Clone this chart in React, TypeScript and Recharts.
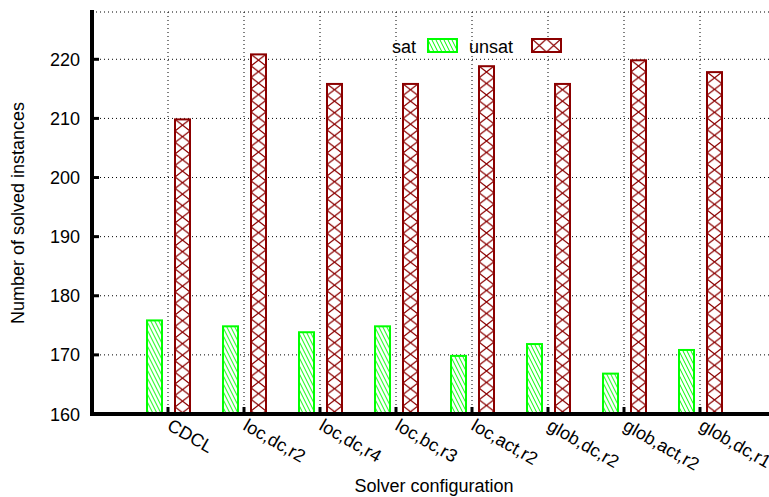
import React from 'react';
import { BarChart, Bar, XAxis, YAxis, CartesianGrid, Legend } from 'recharts';

const categories = ['CDCL', 'loc,dc,r2', 'loc,dc,r4', 'loc,bc,r3', 'loc,act,r2', 'glob,dc,r2', 'glob,act,r2', 'glob,dc,r1'];
const satValues = [176, 175, 174, 175, 170, 172, 167, 171];
const unsatValues = [210, 221, 216, 216, 219, 216, 220, 218];
const yTicks = [160, 170, 180, 190, 200, 210, 220];
const yDomain = [160, 228];

const data = categories.map((c, i) => ({ name: c, sat: satValues[i], unsat: unsatValues[i] }));

const GREEN = '#00ff00';
const RED = '#8b0000';
const FONT = '"Liberation Sans", Arial, Helvetica, sans-serif';
const FS = 18;

function SatShape(props: any) {
  const { x, y, width, height } = props;
  if (!height || height <= 0) return null;
  const id = `satpat-${Math.round(x)}`;
  return (
    <g>
      <defs>
        <pattern id={id} patternUnits="userSpaceOnUse" x={x} y={y} width={4} height={8}>
          <rect width={4} height={8} fill="#fff" />
          <path d="M-1,-2 L5,10 M-5,-2 L1,10 M3,-2 L9,10" stroke={GREEN} strokeWidth={1} />
        </pattern>
      </defs>
      <rect x={x + 1} y={y + 1} width={width - 2} height={height - 2} fill={`url(#${id})`} stroke={GREEN} strokeWidth={2} />
    </g>
  );
}

function UnsatShape(props: any) {
  const { x, y, width, height } = props;
  if (!height || height <= 0) return null;
  const id = `unsatpat-${Math.round(x)}`;
  const w = width - 2;
  const h = 11.5;
  return (
    <g>
      <defs>
        <pattern id={id} patternUnits="userSpaceOnUse" x={x + 1} y={y + 1} width={w} height={h}>
          <rect width={w} height={h} fill="#fff" />
          <path d={`M0,0 L${w},${h} M${w},0 L0,${h}`} stroke={RED} strokeWidth={1.3} />
        </pattern>
      </defs>
      <rect x={x + 1} y={y + 1} width={width - 2} height={height - 2} fill={`url(#${id})`} stroke={RED} strokeWidth={2} />
    </g>
  );
}

function BottomTick(props: any) {
  const { x, y, payload } = props;
  const tx = x - 2;
  const ty = y + 15;
  return (
    <g>
      <line x1={x} y1={y} x2={x} y2={y - 7} stroke="#000" strokeWidth={3} />
      <text x={tx} y={ty} transform={`rotate(30 ${tx} ${ty})`} textAnchor="start" fontFamily={FONT} fontSize={FS} fill="#000">
        {payload.value}
      </text>
    </g>
  );
}

function TopTick(props: any) {
  const { x, y } = props;
  return <line x1={x} y1={y} x2={x} y2={y + 7} stroke="#000" strokeWidth={3} />;
}

function LeftTick(props: any) {
  const { x, y, payload } = props;
  return (
    <g>
      <line x1={x} y1={y} x2={x + 7} y2={y} stroke="#000" strokeWidth={3} />
      <text x={x - 12} y={y + 6.5} textAnchor="end" fontFamily={FONT} fontSize={FS} fill="#000">
        {payload.value}
      </text>
    </g>
  );
}

function LegendContent(props: any) {
  const payload = props.payload || [];
  const satName = payload[0] ? payload[0].value : 'sat';
  const unsatName = payload[1] ? payload[1].value : 'unsat';
  return (
    <svg width={200} height={20} style={{ display: 'block', overflow: 'visible' }}>
      <defs>
        <pattern id="legSat" patternUnits="userSpaceOnUse" x={47} y={2} width={4} height={8}>
          <rect width={4} height={8} fill="#fff" />
          <path d="M-1,-2 L5,10 M-5,-2 L1,10 M3,-2 L9,10" stroke={GREEN} strokeWidth={1} />
        </pattern>
        <pattern id="legUnsat" patternUnits="userSpaceOnUse" x={152} y={3} width={14.5} height={13}>
          <rect width={14.5} height={13} fill="#fff" />
          <path d="M0,0 L14.5,13 M14.5,0 L0,13" stroke={RED} strokeWidth={1.3} />
        </pattern>
      </defs>
      <text x={36} y={16.5} textAnchor="end" fontFamily={FONT} fontSize={FS} fill="#000">{satName}</text>
      <rect x={48} y={3} width={29} height={13} fill="url(#legSat)" stroke={GREEN} strokeWidth={2} />
      <text x={133} y={16.5} textAnchor="end" fontFamily={FONT} fontSize={FS} fill="#000">{unsatName}</text>
      <rect x={152} y={3} width={29} height={13} fill="url(#legUnsat)" stroke={RED} strokeWidth={2} />
    </svg>
  );
}

function YLabel(props: any) {
  const vb = props.viewBox || { x: 0, y: 12, width: 92, height: 402 };
  const cx = vb.x + 24;
  const cy = vb.y + vb.height / 2;
  return (
    <text x={cx} y={cy} transform={`rotate(-90 ${cx} ${cy})`} textAnchor="middle" fontFamily={FONT} fontSize={FS} fill="#000">
      Number of solved instances
    </text>
  );
}

function XLabel(props: any) {
  const vb = props.viewBox || { x: 92, y: 414, width: 684, height: 83 };
  return (
    <text x={vb.x + vb.width / 2} y={vb.y + 78} textAnchor="middle" fontFamily={FONT} fontSize={FS} fill="#000">
      Solver configuration
    </text>
  );
}

export default function App() {
  const axisLine = { stroke: '#000', strokeWidth: 4, strokeLinecap: 'square' as const };
  return (
    <div style={{ position: 'absolute', left: 0, top: 0, width: 769, height: 497, overflow: 'hidden', background: '#fff' }}>
      <BarChart width={800} height={497} data={data} margin={{ top: 12, right: 24, left: 0, bottom: 0 }} barGap={11}>
        <CartesianGrid stroke="#000" strokeDasharray="1 3" />
        <XAxis
          dataKey="name"
          xAxisId={0}
          height={83}
          padding={{ left: 38, right: 38 }}
          interval={0}
          tickSize={0}
          tickMargin={0}
          tickLine={false}
          stroke="#000"
          strokeWidth={4}
          axisLine={axisLine}
          tick={<BottomTick />}
          label={<XLabel />}
        />
        <XAxis
          dataKey="name"
          xAxisId="top"
          orientation="top"
          height={0}
          padding={{ left: 38, right: 38 }}
          interval={0}
          tickSize={0}
          tickMargin={0}
          tickLine={false}
          stroke="#000"
          strokeWidth={4}
          axisLine={axisLine}
          tick={<TopTick />}
        />
        <YAxis
          type="number"
          width={92}
          domain={yDomain}
          ticks={yTicks}
          allowDataOverflow
          interval={0}
          tickSize={0}
          tickMargin={0}
          tickLine={false}
          stroke="#000"
          strokeWidth={4}
          axisLine={axisLine}
          tick={<LeftTick />}
          label={<YLabel />}
        />
        <Legend
          layout="horizontal"
          verticalAlign="middle"
          align="center"
          wrapperStyle={{ position: 'absolute', top: 36, left: 380, width: 200, height: 20 }}
          content={<LegendContent />}
        />
        <Bar dataKey="sat" name="sat" barSize={17} shape={SatShape} isAnimationActive={false} />
        <Bar dataKey="unsat" name="unsat" barSize={17} shape={UnsatShape} isAnimationActive={false} />
      </BarChart>
    </div>
  );
}
